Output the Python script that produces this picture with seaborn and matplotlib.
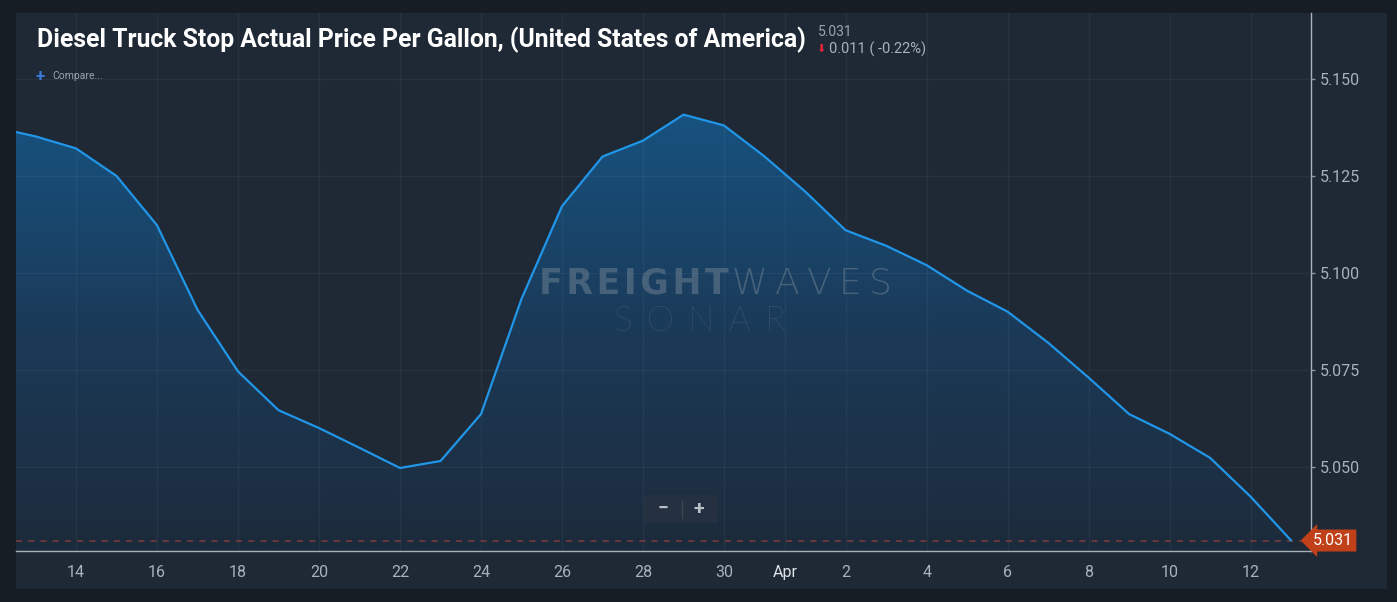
import numpy as np
import pandas as pd
import matplotlib
matplotlib.use("Agg")
import matplotlib.pyplot as plt
import matplotlib.dates as mdates
import seaborn as sns
from matplotlib.colors import LinearSegmentedColormap
from matplotlib.patches import Rectangle, FancyBboxPatch

# daily diesel truck stop price, Mar 12 .. Apr 13
dates = pd.date_range("2022-03-12", "2022-04-13", freq="D")
prices = [5.1375, 5.1352, 5.1321, 5.1250, 5.1123, 5.0905, 5.0746, 5.0646, 5.0600, 5.0549, 5.0497,
          5.0515, 5.0636, 5.0933, 5.1172, 5.1300, 5.1341, 5.1408, 5.1380, 5.1300, 5.1210,
          5.1110, 5.1070, 5.1020, 5.0954, 5.0900, 5.0820, 5.0730, 5.0636, 5.0585, 5.0523, 5.0423, 5.0310]
y_ticks = [5.050, 5.075, 5.100, 5.125, 5.150]
x_tick_dates = ["2022-03-14", "2022-03-16", "2022-03-18", "2022-03-20", "2022-03-22", "2022-03-24",
                "2022-03-26", "2022-03-28", "2022-03-30", "2022-03-31 12:00", "2022-04-02",
                "2022-04-04", "2022-04-06", "2022-04-08", "2022-04-10", "2022-04-12"]
x_tick_labels = ["14", "16", "18", "20", "22", "24", "26", "28", "30", "Apr",
                 "2", "4", "6", "8", "10", "12"]
title = "Diesel Truck Stop Actual Price Per Gallon, (United States of America)"
last_value = "5.031"
change_text = "0.011 ( -0.22%)"

df = pd.DataFrame({"date": dates, "price": prices})

BG_OUT = "#161d25"
PANEL = "#1e2935"
LINE = "#2196e8"
TXT = "#a9b2bb"

sns.set_style("dark")
plt.rcParams["font.family"] = ["Roboto", "DejaVu Sans"]

W, H = 1397, 602
fig = plt.figure(figsize=(W / 100, H / 100), dpi=100, facecolor=BG_OUT)

def fx(px):
    return px / W

def fy(py):
    return 1 - py / H

# chart panel (behind the axes)
fig.patches.append(Rectangle((fx(16), fy(589)), fx(1387 - 16), (589 - 13) / H,
                             transform=fig.transFigure, facecolor=PANEL, edgecolor="none", zorder=-5))

ax = fig.add_axes([fx(16), fy(551), fx(1311 - 16), (551 - 13) / H])
ax.set_facecolor(PANEL)

x0 = mdates.date2num(dates[1]) - 0.48
x1 = mdates.date2num(dates[-1]) + 0.49
y0, y1 = 5.0283, 5.1670

# gradient area under the line
xs = mdates.date2num(df["date"])
poly = ax.fill_between(xs, df["price"], y0 - 1, color="none", zorder=1)
cmap = LinearSegmentedColormap.from_list("area", ["#1d2b3b", "#1b3a58", "#17527f"])
grad = np.linspace(0, 1, 256).reshape(-1, 1)
im = ax.imshow(grad, cmap=cmap, origin="lower", aspect="auto",
               extent=[x0, x1, y0, max(prices)], zorder=1)
im.set_clip_path(poly.get_paths()[0], transform=ax.transData)

sns.lineplot(data=df, x=xs, y="price", ax=ax, color=LINE, linewidth=1.6, zorder=4)

# last value dashed guide
ax.axhline(prices[-1], color="#7c3c3e", linewidth=1.1, dashes=(4, 4), zorder=3)

ax.set_xlim(x0, x1)
ax.set_ylim(y0, y1)

ax.set_xticks(mdates.date2num(pd.to_datetime(x_tick_dates, format="ISO8601")))
ax.set_xticklabels(x_tick_labels)

ax.yaxis.tick_right()
ax.set_yticks(y_ticks)
ax.set_yticklabels([f"{v:.3f}" for v in y_ticks])

ax.tick_params(axis="x", colors="#8f99a3", labelcolor=TXT, labelsize=11.5, length=4, width=1, pad=6)
ax.tick_params(axis="y", colors="#8f99a3", labelcolor=TXT, labelsize=11.5, length=3, width=1, pad=3)
for lab in ax.get_xticklabels():
    if lab.get_text() == "Apr":
        lab.set_color("#dfe4e8")

ax.grid(True, color="white", linewidth=1, alpha=0.045)
ax.set_axisbelow(False)
for g in ax.get_xgridlines() + ax.get_ygridlines():
    g.set_zorder(2)

for side in ["left", "top"]:
    ax.spines[side].set_visible(False)
for side in ["bottom", "right"]:
    ax.spines[side].set_visible(True)
    ax.spines[side].set_color("#aab2ba")
    ax.spines[side].set_linewidth(1)
ax.set_xlabel("")
ax.set_ylabel("")

# price tag on the right
ax.annotate(last_value, xy=(1.0, prices[-1]), xycoords=("axes fraction", "data"),
            xytext=(1.0168, prices[-1]), textcoords=("axes fraction", "data"),
            ha="center", va="center", color="white", fontsize=11.5, annotation_clip=False,
            bbox=dict(boxstyle="larrow,pad=0.22", fc="#c0401a", ec="none"), zorder=6)

# title and last value block
fig.text(fx(37), fy(40), title, color="white", fontsize=17.8, fontweight="bold",
         ha="left", va="center")
fig.text(fx(818), fy(32), last_value, color="#9aa3ad", fontsize=10, ha="left", va="center")
fig.text(fx(816), fy(49), "\u2b07", color="#e5233a", fontsize=8, ha="left", va="center",
         family=["DejaVu Sans"])
fig.text(fx(829), fy(49), change_text, color="#a9b1ba", fontsize=10.5, ha="left", va="center")

fig.text(fx(35), fy(76), "+", color="#3a78d8", fontsize=12, fontweight="bold", ha="left", va="center")
fig.text(fx(52), fy(76), "Compare...", color="#9aa3ad", fontsize=7.5, ha="left", va="center")

# watermark
fig.text(fx(634), fy(284), "\u200a".join("FREIGHT"), color="#7d8c9a", alpha=0.45, fontsize=25,
         fontweight="bold", ha="center", va="center", family=["DejaVu Sans"])
fig.text(fx(812), fy(284), "\u2009".join("WAVES"), color="#7d8c9a", alpha=0.45, fontsize=26,
         fontweight="light", ha="center", va="center", family=["DejaVu Sans"])
fig.text(fx(700), fy(321), " \u2009".join("SONAR"), color="#7d8c9a", alpha=0.45, fontsize=25,
         fontweight="light", ha="center", va="center", family=["Lato", "DejaVu Sans"])

# zoom buttons
fig.patches.append(FancyBboxPatch((fx(646), fy(522)), fx(70), 26 / H,
                                  boxstyle="round,pad=0.0015", transform=fig.transFigure,
                                  facecolor="#253140", edgecolor="none", zorder=5))
fig.lines.append(plt.Line2D([fx(682), fx(682)], [fy(500), fy(518)], transform=fig.transFigure,
                            color="#3a4654", linewidth=1, zorder=6))
fig.text(fx(663), fy(509), "\u2212", color="#b8c0c8", fontsize=14, fontweight="bold",
         ha="center", va="center", zorder=7)
fig.text(fx(699), fy(509), "+", color="#b8c0c8", fontsize=14, fontweight="bold",
         ha="center", va="center", zorder=7)

fig.savefig("out.png", dpi=100, facecolor=BG_OUT)
